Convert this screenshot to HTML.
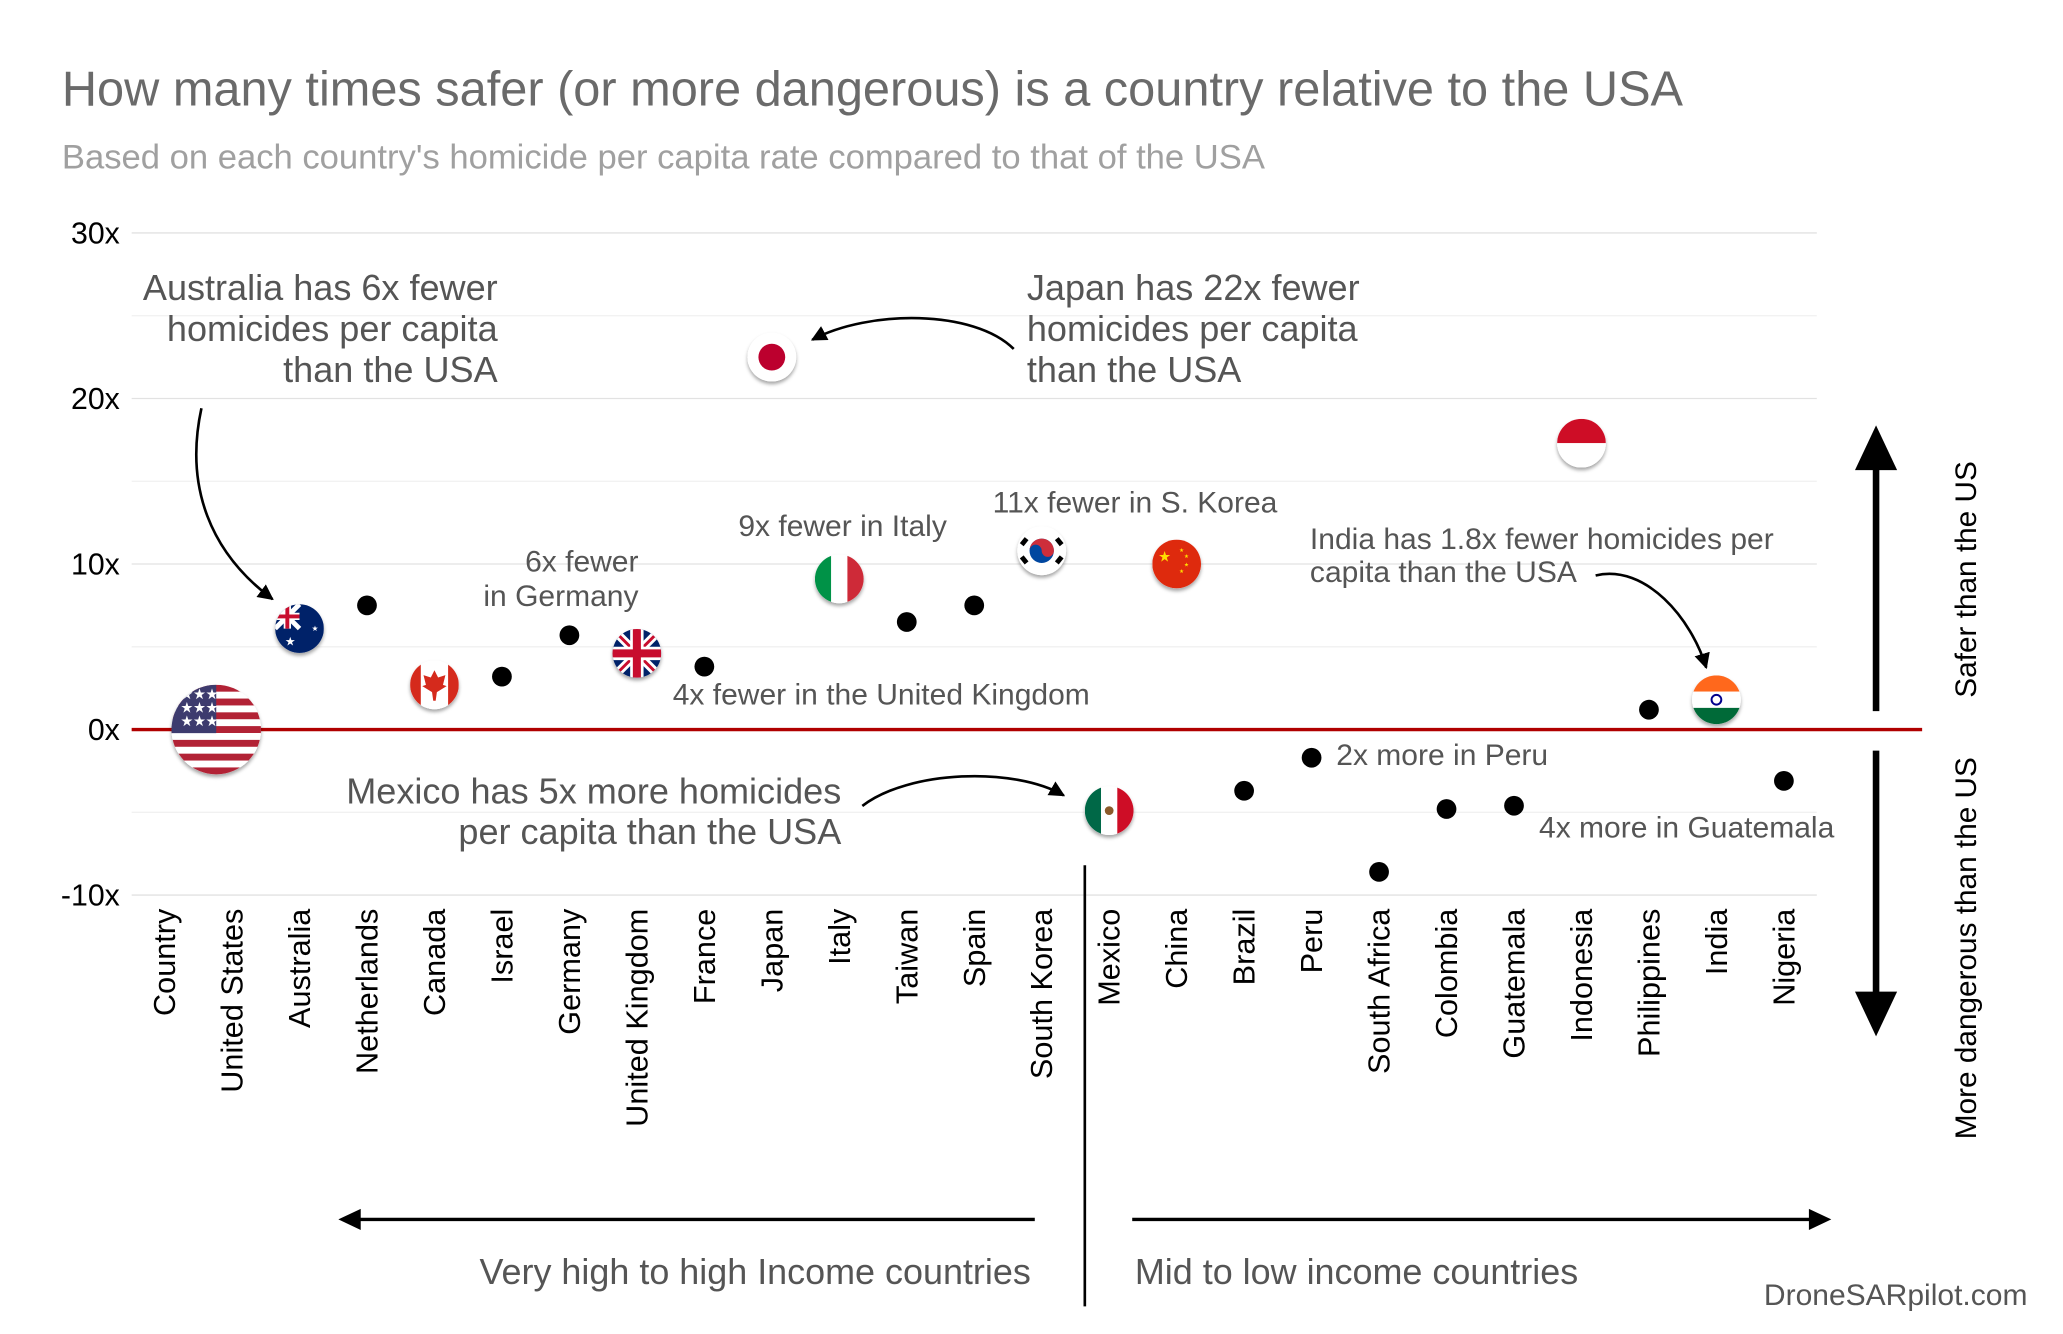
<!DOCTYPE html>
<html><head><meta charset="utf-8"><style>
html,body{margin:0;padding:0;background:#fff;}
svg{display:block;font-family:"Liberation Sans",Arial,sans-serif;}
</style></head><body>
<svg id="chart" width="2063" height="1334" viewBox="0 0 1567 1013" preserveAspectRatio="none" xmlns="http://www.w3.org/2000/svg">
<defs>
<marker id="ah" viewBox="0 0 10 10" refX="9" refY="5" markerWidth="6" markerHeight="6" orient="auto"><path d="M0,0L10,5L0,10z" fill="#000"/></marker>
<filter id="sh" x="-30%" y="-30%" width="160%" height="170%"><feDropShadow dx="0" dy="2" stdDeviation="1.5" flood-color="#000" flood-opacity="0.35"/></filter>
</defs>
<text x="47" y="80" font-size="37" fill="#6a6a6a">How many times safer (or more dangerous) is a country relative to the USA</text>
<text x="47" y="128" font-size="26.3" fill="#a0a0a0">Based on each country's homicide per capita rate compared to that of the USA</text>
<g id="grid"></g>
<g id="ticks"></g>
<line x1="100" y1="554" x2="1460" y2="554" stroke="#b00000" stroke-width="2.5"/>
<g id="cats"></g>
<g id="marks"></g>

<g fill="#555" font-size="27.4">
<text text-anchor="end" x="378" y="228">Australia has 6x fewer</text>
<text text-anchor="end" x="378" y="259">homicides per capita</text>
<text text-anchor="end" x="378" y="290">than the USA</text>
<text x="780" y="228">Japan has 22x fewer</text>
<text x="780" y="259">homicides per capita</text>
<text x="780" y="290">than the USA</text>
<text text-anchor="end" x="639" y="610">Mexico has 5x more homicides</text>
<text text-anchor="end" x="639" y="641">per capita than the USA</text>
</g>
<g fill="#555" font-size="22.8">
<text text-anchor="end" x="485" y="434">6x fewer</text>
<text text-anchor="end" x="485" y="460">in Germany</text>
<text x="511" y="535">4x fewer in the United Kingdom</text>
<text text-anchor="middle" x="640" y="407">9x fewer in Italy</text>
<text x="754" y="389">11x fewer in S. Korea</text>
<text x="995" y="417">India has 1.8x fewer homicides per</text>
<text x="995" y="442">capita than the USA</text>
<text x="1015" y="581">2x more in Peru</text>
<text x="1169" y="636">4x more in Guatemala</text>
</g>
<g fill="none" stroke="#000" stroke-width="2">
<path d="M153,310 C140,370 160,420 207,455" marker-end="url(#ah)"/>
<path d="M770,265 C740,235 660,235 617,258" marker-end="url(#ah)"/>
<path d="M655,612 C690,585 770,582 808,604" marker-end="url(#ah)"/>
<path d="M1212,437 C1250,428 1285,470 1296,507" marker-end="url(#ah)"/>
</g>

<g>
<line x1="1425" y1="540" x2="1425" y2="350" stroke="#000" stroke-width="5"/>
<path d="M1409,357 L1425,323 L1441,357z" fill="#000"/>
</g>
<g>
<line x1="1425" y1="570" x2="1425" y2="760" stroke="#000" stroke-width="5"/>
<path d="M1409,753 L1425,787 L1441,753z" fill="#000"/>
</g>
<text transform="translate(1501,440) rotate(-90)" text-anchor="middle" font-size="22.6" fill="#000">Safer than the US</text>
<text transform="translate(1501,720) rotate(-90)" text-anchor="middle" font-size="22.6" fill="#000">More dangerous than the US</text>

<line x1="824" y1="657" x2="824" y2="992" stroke="#000" stroke-width="2"/>
<g>
<line x1="786" y1="926" x2="270" y2="926" stroke="#000" stroke-width="2.5"/>
<path d="M274,918 L257,926 L274,934z" fill="#000"/>
</g>
<g>
<line x1="860" y1="926" x2="1378" y2="926" stroke="#000" stroke-width="2.5"/>
<path d="M1374,918 L1391,926 L1374,934z" fill="#000"/>
</g>
<text x="783" y="975" text-anchor="end" font-size="27.3" fill="#555">Very high to high Income countries</text>
<text x="862" y="975" font-size="27.3" fill="#555">Mid to low income countries</text>
<text x="1540" y="991" text-anchor="end" font-size="22.8" fill="#555">DroneSARpilot.com</text>
</svg>
<script>
const categories = ["Country","United States","Australia","Netherlands","Canada","Israel","Germany","United Kingdom","France","Japan","Italy","Taiwan","Spain","South Korea","Mexico","China","Brazil","Peru","South Africa","Colombia","Guatemala","Indonesia","Philippines","India","Nigeria"];
const values = [null,0,6.1,7.5,2.7,3.2,5.7,4.6,3.8,22.5,9.1,6.5,7.5,10.8,-4.9,10,-3.7,-1.7,-8.6,-4.8,-4.6,17.3,1.2,1.8,-3.1];
const flags = [null,"us","au",null,"ca",null,null,"uk",null,"jp","it",null,null,"kr","mx","cn",null,null,null,null,null,"id",null,"in",null];
const yTicks = [-10,0,10,20,30];
const yTickLabels = ["-10x","0x","10x","20x","30x"];
const yMinor = [-5,5,15,25];

const NS="http://www.w3.org/2000/svg";
const xScale = i => 125 + i*51.25;
const yScale = v => 554 - v*12.57;
function mk(tag, attrs, parent){const e=document.createElementNS(NS,tag);for(const k in attrs)e.setAttribute(k,attrs[k]);parent.appendChild(e);return e;}
const grid=document.getElementById('grid'), ticks=document.getElementById('ticks'), cats=document.getElementById('cats'), marks=document.getElementById('marks');
yMinor.forEach(v=>{const l=mk('line',{x1:100,x2:1380,y1:yScale(v),y2:yScale(v),stroke:'#f1f1f1','stroke-width':1},grid);

});
yTicks.forEach((v,i)=>{const l=mk('line',{x1:100,x2:1380,y1:yScale(v),y2:yScale(v),stroke:'#e2e2e2','stroke-width':1},grid);


const t=mk('text',{x:91,y:yScale(v)+8,'text-anchor':'end','font-size':23,fill:'#000'},ticks);t.textContent=yTickLabels[i];

});
categories.forEach((c,i)=>{const t=mk('text',{transform:`translate(${xScale(i)+8},690) rotate(-90)`,'text-anchor':'end','font-size':23.3,fill:'#000'},cats);t.textContent=c;

});

function flag(code,cx,cy,r,g){
  const id='cp'+code;
  const cp=mk('clipPath',{id:id},g);mk('circle',{cx:cx,cy:cy,r:r},cp);
  const f=mk('g',{'clip-path':`url(#${id})`},g);
  const x0=cx-r,y0=cy-r,d=2*r;
  const R=(x,y,w,h,c)=>mk('rect',{x:x,y:y,width:w,height:h,fill:c},f);
  if(code==='us'){for(let k=0;k<13;k++)R(x0,y0+k*d/13,d,d/13+0.5,k%2?'#fff':'#b22234');R(x0,y0,d*0.5,d*0.54,'#3c3b6e');
    for(let a=0;a<3;a++)for(let b=0;b<3;b++){const s=mk('text',{x:x0+d*0.1+b*d*0.14,y:y0+d*0.16+a*d*0.15,'font-size':r*0.32,fill:'#fff'},f);s.textContent='★';}}
  else if(code==='au'){R(x0,y0,d,d,'#012169');
    mk('path',{d:`M${x0},${y0}L${cx},${cy}M${cx},${y0}L${x0},${cy}`,stroke:'#fff','stroke-width':r*0.2},f);
    mk('path',{d:`M${x0+d/4},${y0}V${cy}M${x0},${y0+d/4}H${cx}`,stroke:'#fff','stroke-width':r*0.3},f);
    mk('path',{d:`M${x0+d/4},${y0}V${cy}M${x0},${y0+d/4}H${cx}`,stroke:'#c8102e','stroke-width':r*0.16},f);
    const s=mk('text',{x:x0+d*0.2,y:y0+d*0.85,'font-size':r*0.5,fill:'#fff'},f);s.textContent='★';
    const s2=mk('text',{x:x0+d*0.75,y:y0+d*0.55,'font-size':r*0.3,fill:'#fff'},f);s2.textContent='★';}
  else if(code==='ca'){R(x0,y0,d,d,'#fff');R(x0,y0,d*0.22,d,'#d52b1e');R(x0+d*0.78,y0,d*0.22,d,'#d52b1e');
    mk('path',{d:`M${cx},${cy-r*0.6}L${cx+r*0.15},${cy-r*0.3}L${cx+r*0.45},${cy-r*0.4}L${cx+r*0.35},${cy}L${cx+r*0.5},${cy+0.05*r}L${cx+r*0.1},${cy+r*0.3}L${cx+r*0.05},${cy+r*0.65}L${cx-r*0.05},${cy+r*0.65}L${cx-r*0.1},${cy+r*0.3}L${cx-r*0.5},${cy+0.05*r}L${cx-r*0.35},${cy}L${cx-r*0.45},${cy-r*0.4}L${cx-r*0.15},${cy-r*0.3}z`,fill:'#d52b1e'},f);}
  else if(code==='uk'){R(x0,y0,d,d,'#012169');
    mk('path',{d:`M${x0},${y0}L${x0+d},${y0+d}M${x0+d},${y0}L${x0},${y0+d}`,stroke:'#fff','stroke-width':r*0.35},f);
    mk('path',{d:`M${x0},${y0}L${x0+d},${y0+d}M${x0+d},${y0}L${x0},${y0+d}`,stroke:'#c8102e','stroke-width':r*0.12},f);
    mk('path',{d:`M${cx},${y0}V${y0+d}M${x0},${cy}H${x0+d}`,stroke:'#fff','stroke-width':r*0.55},f);
    mk('path',{d:`M${cx},${y0}V${y0+d}M${x0},${cy}H${x0+d}`,stroke:'#c8102e','stroke-width':r*0.33},f);}
  else if(code==='jp'){R(x0,y0,d,d,'#fff');mk('circle',{cx:cx,cy:cy,r:r*0.55,fill:'#bc002d'},f);}
  else if(code==='it'){R(x0,y0,d/3,d,'#009246');R(x0+d/3,y0,d/3,d,'#fff');R(x0+2*d/3,y0,d/3+1,d,'#ce2b37');}
  else if(code==='kr'){R(x0,y0,d,d,'#fff');mk('circle',{cx:cx,cy:cy,r:r*0.5,fill:'#0047a0'},f);
    mk('path',{d:`M${cx-r*0.5},${cy} A${r*0.5},${r*0.5} 0 0 1 ${cx+r*0.5},${cy} A${r*0.25},${r*0.25} 0 0 1 ${cx},${cy} A${r*0.25},${r*0.25} 0 0 0 ${cx-r*0.5},${cy}z`,fill:'#cd2e3a'},f);
    [[-1,-1],[1,-1],[-1,1],[1,1]].forEach(([a,b])=>mk('line',{x1:cx+a*r*0.62,y1:cy+b*r*0.5,x2:cx+a*r*0.82,y2:cy+b*r*0.25,stroke:'#000','stroke-width':r*0.2},f));}
  else if(code==='mx'){R(x0,y0,d/3,d,'#006847');R(x0+d/3,y0,d/3,d,'#fff');R(x0+2*d/3,y0,d/3+1,d,'#ce1126');mk('circle',{cx:cx,cy:cy,r:r*0.18,fill:'#8b5a2b'},f);}
  else if(code==='cn'){R(x0,y0,d,d,'#de2910');const s=mk('text',{x:x0+d*0.12,y:y0+d*0.45,'font-size':r*0.6,fill:'#ffde00'},f);s.textContent='★';
    [[0.55,0.25],[0.65,0.38],[0.65,0.55],[0.55,0.68]].forEach(([a,b])=>{const t=mk('text',{x:x0+d*a,y:y0+d*b,'font-size':r*0.22,fill:'#ffde00'},f);t.textContent='★';});}
  else if(code==='id'){R(x0,y0,d,d/2,'#ce1126');R(x0,cy,d,d/2,'#fff');}
  else if(code==='in'){R(x0,y0,d,d/3,'#ff671f');R(x0,y0+d/3,d,d/3,'#fff');R(x0,y0+2*d/3,d,d/3+1,'#046a38');mk('circle',{cx:cx,cy:cy,r:r*0.2,fill:'none',stroke:'#06038d','stroke-width':1.5},f);}
}
categories.forEach((c,i)=>{
  if(values[i]===null) return;
  let cx=xScale(i); const cy=yScale(values[i]);
  if(flags[i]){
    const g=mk('g',{filter:'url(#sh)'},marks);
    
    
    const r = flags[i]==='us'?34:18.5;
    if(flags[i]==='us') cx -= 12;
    mk('circle',{cx:cx,cy:cy,r:r,fill:'#fff'},g);
    flag(flags[i],cx,cy,r,g);
  } else {
    const d=mk('circle',{cx:cx,cy:cy,r:7.5,fill:'#000'},marks);
    
    
  }
});
</script>
</body></html>
